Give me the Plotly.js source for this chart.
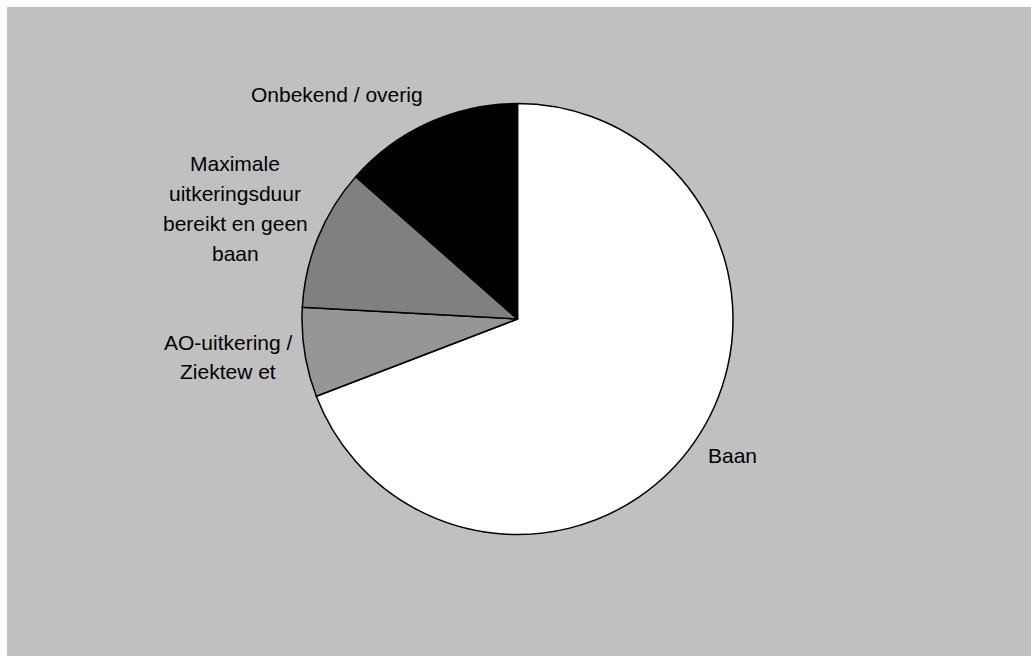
<!DOCTYPE html>
<html>
<head>
<meta charset="utf-8">
<script src="https://cdn.plot.ly/plotly-3.0.1.min.js"></script>
<style>html,body{margin:0;padding:0;background:#fff;}#chart{width:1031px;height:656px;}</style>
</head>
<body>
<div id="chart"></div>
<script>
// Data
const labels = ["Baan", "AO-uitkering / Ziektewet", "Maximale uitkeringsduur bereikt en geen baan", "Onbekend / overig"];
const labelLines = [["Baan"], ["AO-uitkering /", "Ziektew et"], ["Maximale", "uitkeringsduur", "bereikt en geen", "baan"], ["Onbekend / overig"]];
const values = [69.1, 6.7, 10.6, 13.5];
const colors = ["#FFFFFF", "#969696", "#808080", "#000000"];

const W = 1031, H = 656;
const cx = 517.5, cy = 319, r = 215.5;
// label block centre points (pixel) for layout
const labelPos = [[732, 455], [228, 357], [235, 208], [337, 95]];
const lineGap = 30;

const trace = {
  type: "pie",
  labels: labels,
  values: values,
  sort: false,
  direction: "clockwise",
  rotation: 0,
  textinfo: "none",
  hoverinfo: "label+percent",
  showlegend: false,
  marker: { colors: colors, line: { color: "#000000", width: 1.5 } },
  domain: { x: [(cx - r) / W, (cx + r) / W], y: [(H - cy - r) / H, (H - cy + r) / H] }
};

const annotations = [];
labelLines.forEach((lines, i) => {
  const n = lines.length;
  lines.forEach((t, j) => {
    const py = labelPos[i][1] + (j - (n - 1) / 2) * lineGap;
    annotations.push({
      text: t,
      xref: "paper", yref: "paper",
      x: labelPos[i][0] / W, y: 1 - py / H,
      xanchor: "center", yanchor: "middle",
      showarrow: false,
      align: "center",
      font: { family: "Liberation Sans, Arial, sans-serif", size: 21, color: "#000000" }
    });
  });
});

const layout = {
  width: W, height: H,
  margin: { l: 0, r: 0, t: 0, b: 0 },
  paper_bgcolor: "#FFFFFF",
  showlegend: false,
  shapes: [{
    type: "rect", xref: "paper", yref: "paper", layer: "below",
    x0: 7 / W, x1: 1, y0: 0, y1: 1 - 7 / H,
    fillcolor: "#C0C0C0", line: { width: 0 }
  }],
  annotations: annotations
};

Plotly.newPlot("chart", [trace], layout, { displayModeBar: false, staticPlot: true });
</script>
</body>
</html>
